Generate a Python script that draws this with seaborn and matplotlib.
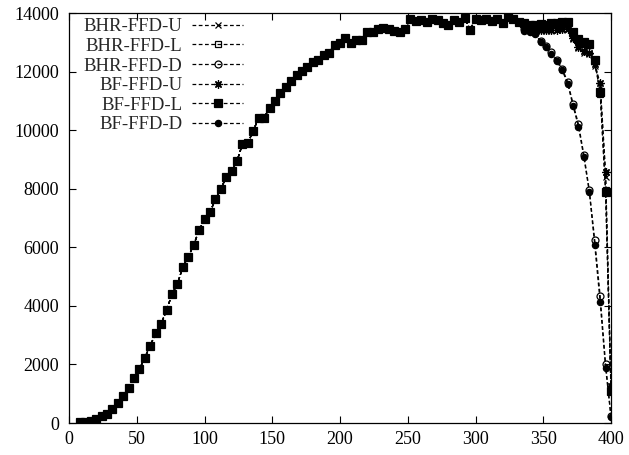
import matplotlib
matplotlib.use('Agg')
import numpy as np
import pandas as pd
import matplotlib.pyplot as plt
import seaborn as sns

# shared part of the curve (x = 8 .. 332, every 4)
x_base = [8, 12, 16, 20, 24, 28, 32, 36, 40, 44, 48, 52, 56, 60, 64, 68, 72, 76,
          80, 84, 88, 92, 96, 100, 104, 108, 112, 116, 120, 124, 128, 132, 136,
          140, 144, 148, 152, 156, 160, 164, 168, 172, 176, 180, 184, 188, 192,
          196, 200, 204, 208, 212, 216, 220, 224, 228, 232, 236, 240, 244, 248,
          252, 256, 260, 264, 268, 272, 276, 280, 284, 288, 292, 296, 300, 304,
          308, 312, 316, 320, 324, 328, 332]
y_base = [20, 35, 60, 135, 225, 310, 475, 700, 930, 1210, 1550, 1840, 2235, 2645,
          3070, 3390, 3850, 4400, 4745, 5330, 5675, 6075, 6585, 6950, 7190, 7635,
          7995, 8385, 8590, 8950, 9520, 9565, 9980, 10430, 10430, 10760, 11010,
          11280, 11475, 11670, 11875, 12010, 12140, 12310, 12410, 12555, 12650,
          12920, 12990, 13150, 12960, 13095, 13070, 13335, 13350, 13440, 13490,
          13470, 13375, 13350, 13465, 13805, 13715, 13750, 13690, 13785, 13750,
          13670, 13600, 13750, 13690, 13830, 13420, 13800, 13750, 13780, 13720,
          13800, 13650, 13860, 13780, 13700]

# where the series split apart
x_tail = [336, 340, 344, 348, 352, 356, 360, 364, 368, 372, 376, 380, 384, 388,
          392, 396, 400]
bhr_u = [13500, 13420, 13420, 13400, 13400, 13400, 13420, 13430, 13450, 13100,
         12800, 12650, 12600, 12200, 11500, 8400, 1200]
bhr_l = [13620, 13580, 13570, 13600, 13580, 13620, 13640, 13660, 13680, 13300,
         13050, 12950, 12900, 12350, 11250, 7950, 1100]
bhr_d = [13450, 13380, 13330, 13060, 12880, 12660, 12400, 12100, 11650, 10900,
         10200, 9150, 7950, 6245, 4335, 2015, 230]
bf_u = [13550, 13450, 13450, 13430, 13420, 13420, 13430, 13450, 13470, 13150,
        12850, 12700, 12650, 12250, 11600, 8575, 1270]
bf_l = [13650, 13600, 13600, 13620, 13600, 13650, 13650, 13680, 13700, 13350,
        13100, 13000, 12950, 12400, 11300, 7890, 1090]
bf_d = [13400, 13350, 13300, 13015, 12845, 12615, 12350, 12045, 11590, 10830,
        10120, 9070, 7890, 6075, 4120, 1890, 195]

labels = ['BHR-FFD-U', 'BHR-FFD-L', 'BHR-FFD-D', 'BF-FFD-U', 'BF-FFD-L', 'BF-FFD-D']
tails = [bhr_u, bhr_l, bhr_d, bf_u, bf_l, bf_d]

# marker style per series: (marker, filled, size)
styles = {
    'BHR-FFD-U': ('x', True, 5),
    'BHR-FFD-L': ('s', False, 5),
    'BHR-FFD-D': ('o', False, 5),
    'BF-FFD-U': ((8, 2, 0), True, 6),
    'BF-FFD-L': ('s', True, 5.5),
    'BF-FFD-D': ('o', True, 4.5),
}

sns.set_style('ticks')
plt.rcParams['font.family'] = ['Liberation Serif', 'DejaVu Serif']
plt.rcParams['font.size'] = 13

fig = plt.figure(figsize=(6.29, 4.55), dpi=100)
ax = fig.add_axes([69 / 629, 1 - 423 / 455, 542 / 629, 410 / 455])

for name, tail in zip(labels, tails):
    df = pd.DataFrame({'x': x_base + x_tail, 'y': y_base + tail})
    marker, filled, ms = styles[name]
    sns.lineplot(data=df, x='x', y='y', ax=ax, color='black', linewidth=0.9,
                 linestyle=(0, (3, 2)), marker=marker, markersize=ms,
                 markerfacecolor='black' if filled else 'none',
                 markeredgecolor='black', markeredgewidth=0.9, label=name)

ax.set_xlim(0, 400)
ax.set_ylim(0, 14000)
ax.set_xticks(range(0, 401, 50))
ax.set_yticks(range(0, 14001, 2000))
ax.set_xlabel('')
ax.set_ylabel('')
ax.tick_params(direction='in', top=True, right=True, length=5, width=0.8,
               labelsize=13, colors='black')
ax.tick_params(axis='x', pad=6)
ax.tick_params(axis='y', pad=7)
for s in ax.spines.values():
    s.set_visible(True)
    s.set_linewidth(0.9)
    s.set_color('black')

leg = ax.legend(loc='upper left', bbox_to_anchor=(0.027, 0.987), frameon=False,
                markerfirst=False, handlelength=2.72, handletextpad=0.53,
                labelspacing=0.13, borderpad=0, borderaxespad=0, fontsize=13.5,
                numpoints=1)

fig.savefig('out.png', dpi=100)
